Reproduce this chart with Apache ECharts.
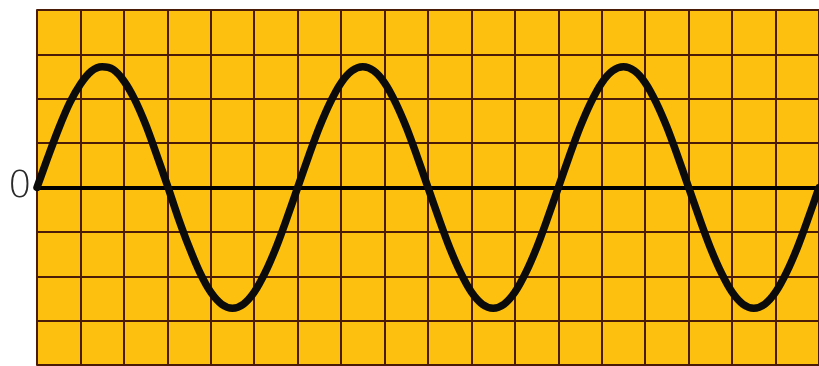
<!DOCTYPE html>
<html>
<head>
<meta charset="utf-8">
<script src="https://cdn.jsdelivr.net/npm/echarts@6/dist/echarts.min.js"></script>
<style>
  html, body { margin: 0; padding: 0; background: #ffffff; }
  #chart { width: 819px; height: 366px; }
</style>
</head>
<body>
<div id="chart"></div>
<script>
// Horizontal position in grid columns (quarter-column steps)
const xValues = [
  0, 0.25, 0.5, 0.75, 1, 1.25, 1.5, 1.75, 2, 2.25, 2.5, 2.75,
  3, 3.25, 3.5, 3.75, 4, 4.25, 4.5, 4.75, 5, 5.25, 5.5, 5.75,
  6, 6.25, 6.5, 6.75, 7, 7.25, 7.5, 7.75, 8, 8.25, 8.5, 8.75,
  9, 9.25, 9.5, 9.75, 10, 10.25, 10.5, 10.75, 11, 11.25, 11.5, 11.75,
  12, 12.25, 12.5, 12.75, 13, 13.25, 13.5, 13.75, 14, 14.25, 14.5, 14.75,
  15, 15.25, 15.5, 15.75, 16, 16.25, 16.5, 16.75, 17, 17.25, 17.5, 17.75, 18
];
// Wave height in grid rows
const yValues = [
  0, 0.68, 1.33, 1.9, 2.33, 2.62, 2.72, 2.66, 2.4, 1.98, 1.42, 0.75,
  0.05, -0.68, -1.34, -1.92, -2.36, -2.63, -2.72, -2.63, -2.36, -1.92, -1.36, -0.7,
  0, 0.7, 1.36, 1.92, 2.36, 2.63, 2.72, 2.63, 2.36, 1.92, 1.36, 0.7,
  0, -0.7, -1.36, -1.92, -2.36, -2.63, -2.72, -2.63, -2.36, -1.92, -1.36, -0.7,
  0, 0.7, 1.36, 1.92, 2.36, 2.63, 2.72, 2.63, 2.36, 1.92, 1.36, 0.7,
  0, -0.7, -1.36, -1.92, -2.36, -2.63, -2.72, -2.63, -2.36, -1.92, -1.36, -0.7, 0
];
const yTickLabels = ['0'];

const gridLine = { color: '#4a1c08', width: 2 };

const chart = echarts.init(document.getElementById('chart'));
chart.setOption({
  animation: false,
  grid: {
    left: 37, right: -1, top: 10, bottom: 1,
    show: true, backgroundColor: '#fdc00e', borderWidth: 0
  },
  xAxis: {
    type: 'value', min: 0, max: 18, interval: 1,
    axisLabel: { show: false },
    axisTick: { show: false },
    axisLine: { show: true, onZero: true, lineStyle: { color: '#000000', width: 4 } },
    splitLine: { show: true, lineStyle: gridLine }
  },
  yAxis: {
    type: 'value', min: -4, max: 4, interval: 1,
    axisTick: { show: false },
    axisLine: { show: true, lineStyle: gridLine },
    splitLine: { show: true, lineStyle: gridLine },
    axisLabel: {
      margin: 5,
      fontFamily: 'DejaVu Sans',
      fontSize: 38,
      fontWeight: 200,
      color: '#2a2a2a',
      formatter: v => yTickLabels.includes(String(v)) ? String(v) : ''
    }
  },
  series: [{
    type: 'line',
    data: xValues.map((x, i) => [x, yValues[i]]),
    smooth: 0.3,
    symbol: 'none',
    lineStyle: { color: '#0b0b0b', width: 7.5, cap: 'round', join: 'round' },
    z: 3
  }]
});
</script>
</body>
</html>
